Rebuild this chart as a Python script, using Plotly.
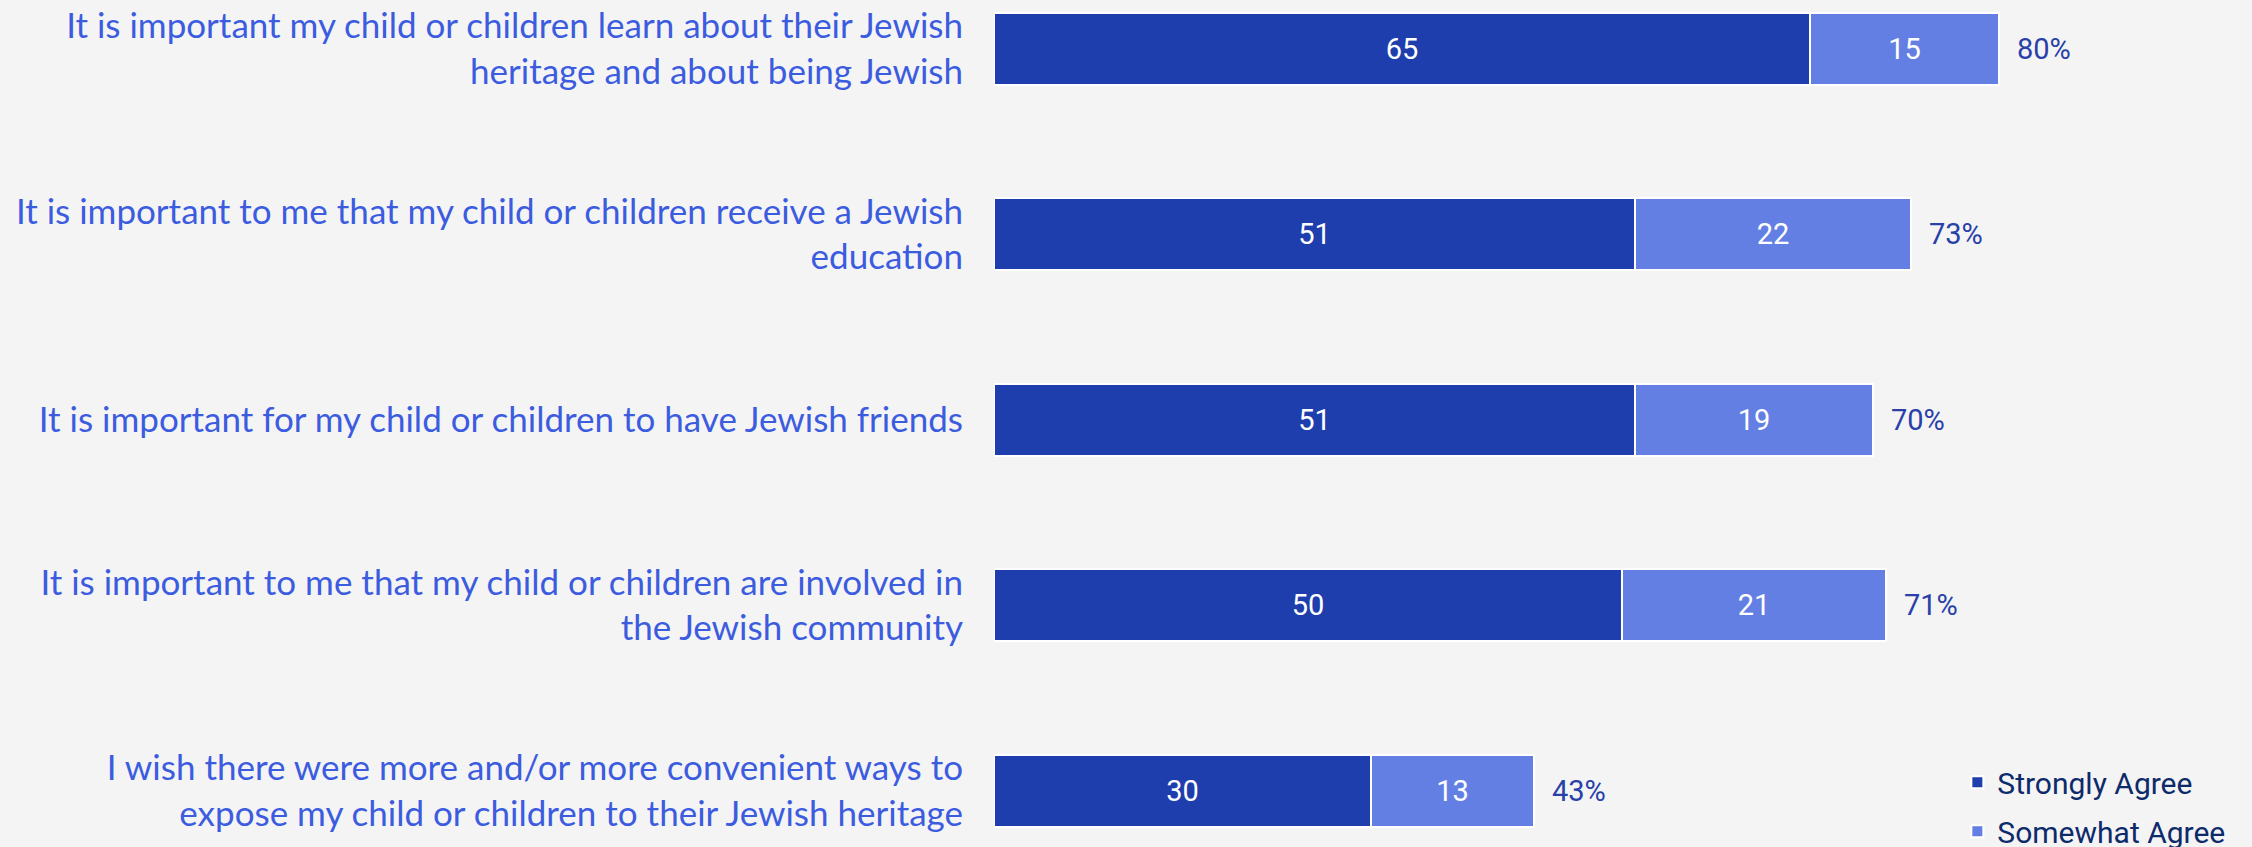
import plotly.graph_objects as go

# Survey statements (top to bottom) and agreement shares, in percent
statements = [
    "It is important my child or children learn about their Jewish<br>heritage and about being Jewish",
    "It is important to me that my child or children receive a Jewish<br>education",
    "It is important for my child or children to have Jewish friends",
    "It is important to me that my child or children are involved in<br>the Jewish community",
    "I wish there were more and/or more convenient ways to<br>expose my child or children to their Jewish heritage",
]
strongly_agree = [65, 51, 51, 50, 30]
somewhat_agree = [15, 22, 19, 21, 13]
total_agree = [80, 73, 70, 71, 43]

DARK = "#1e3eae"
LIGHT = "#637fe4"
BG = "#f4f4f4"
LABEL_BLUE = "#3c5ce0"
NUM_FONT = "Roboto"

rows = list(range(len(statements)))

fig = go.Figure()

fig.add_trace(go.Bar(
    name="Strongly Agree",
    y=rows, x=strongly_agree, orientation="h",
    marker=dict(color=DARK, line=dict(color="white", width=2)),
    text=[str(v) for v in strongly_agree],
    textposition="inside", insidetextanchor="middle",
    insidetextfont=dict(family=NUM_FONT, size=29, color="white"),
    width=0.388, legendgroup="a",
))
fig.add_trace(go.Bar(
    name="Somewhat Agree",
    y=rows, x=somewhat_agree, orientation="h",
    marker=dict(color=LIGHT, line=dict(color="white", width=2)),
    text=[str(v) for v in somewhat_agree],
    textposition="inside", insidetextanchor="middle",
    insidetextfont=dict(family=NUM_FONT, size=29, color="white"),
    width=0.388, legendgroup="b",
))

# Totals to the right of each stacked bar
for r, t in zip(rows, total_agree):
    fig.add_annotation(
        x=t, y=r, text=f"{t}%", showarrow=False,
        xanchor="left", yanchor="middle", xshift=16,
        font=dict(family=NUM_FONT, size=29, color="#2840a8"),
    )

fig.update_layout(
    barmode="stack",
    width=2252, height=847,
    margin=dict(l=994, r=2, t=0, b=0, autoexpand=False),
    paper_bgcolor=BG, plot_bgcolor=BG,
    bargap=0,
    xaxis=dict(visible=False, range=[0, 100], fixedrange=True),
    yaxis=dict(
        tickmode="array", tickvals=rows, ticktext=statements,
        range=[4.302, -0.263], showgrid=False, zeroline=False,
        showline=False, ticks="", ticklabelstandoff=30,
        tickfont=dict(family="Lato", size=35, color=LABEL_BLUE),
    ),
    legend=dict(
        x=0.767, y=-0.012, xanchor="left", yanchor="bottom",
        bgcolor="rgba(0,0,0,0)", tracegroupgap=7, itemwidth=30,
        font=dict(family=NUM_FONT, size=30, color="#0d2a6b"),
    ),
    showlegend=True,
)

fig.write_html("out.html")
